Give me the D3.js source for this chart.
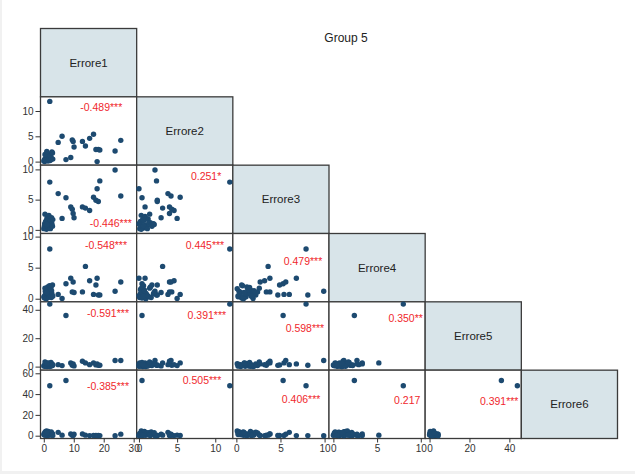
<!DOCTYPE html>
<html>
<head>
<meta charset="utf-8">
<script src="https://cdn.jsdelivr.net/npm/d3@7"></script>
<style>
  body { margin: 0; background: #f1f1f1; }
  svg { display: block; }
  text { font-family: "Liberation Sans", Arial, sans-serif; }
</style>
</head>
<body>
<script>
const title = 'Group 5'
const vars = ['Errore1', 'Errore2', 'Errore3', 'Errore4', 'Errore5', 'Errore6']

// one value per observation, same order in every array
const errore1 = [2.0,
  4.8, 6.1, 7.4, 9.0, 9.5, 9.8, 10.1, 12.9, 13.9, 15.3, 16.6, 17.4, 17.8, 18.2, 18.7, 23.8, 25.7,
  0.0, 0.2, 0.3, 0.5, 0.6, 0.8, 0.9, 1.0, 1.1, 1.2, 1.3, 1.4, 1.5, 1.6, 1.7, 1.8, 1.9, 2.0,
  2.1, 2.2, 2.4, 2.5, 2.6, 2.7, 2.9, 3.0, 0.4, 1.0]
const errore2 = [11.9,
  3.8, 5.0, 0.4, 0.8, 4.3, 4.0, 2.9, 4.0, 3.1, 4.6, 5.4, 2.4, 0.0, 2.4, 2.3, 2.1, 4.2,
  0.1, 0.4, 0.0, 0.6, 0.2, 0.9, 0.3, 1.2, 0.5, 0.8, 1.5, 0.1, 0.7, 1.0, 0.3, 1.3, 0.6, 0.9,
  0.2, 1.1, 0.4, 1.6, 0.7, 1.9, 1.7, 0.5, 1.4, 2.0]
const errore3 = [7.9,
  6.0, 1.9, 5.3, 3.8, 3.4, 2.7, 2.0, 3.8, 3.6, 3.2, 5.4, 4.9, 6.8, 4.7, 8.1, 9.9, 5.6,
  0.2, 0.6, 1.0, 0.3, 1.4, 0.8, 0.1, 1.8, 0.5, 2.2, 1.2, 0.9, 1.6, 0.4, 2.4, 1.1, 0.7, 1.9,
  1.3, 0.2, 1.5, 0.8, 2.0, 1.0, 0.6, 1.7, 2.6, 0.9]
const errore4 = [8.0,
  0.7, 0.05, 2.4, 3.3, 1.1, 2.7, 1.0, 1.1, 5.2, 2.9, 0.7, 2.2, 3.3, 0.6, 0.6, 1.2, 2.7,
  0.3, 0.1, 0.5, 1.2, 0.8, 0.0, 1.6, 0.4, 1.0, 0.6, 1.9, 0.2, 1.4, 0.7, 1.1, 0.3, 2.1, 0.9,
  1.5, 0.5, 1.8, 0.2, 1.3, 0.8, 2.2, 0.4, 1.7, 1.0]
const errore5 = [44,
  1.4, 0.7, 36, 2.6, 1.0, 1.9, 0.5, 3.8, 2.6, 1.4, 2.6, 1.2, 1.9, 0.9, 1.0, 4.3, 4.3,
  0.5, 0.8, 0.2, 1.5, 0.4, 1.1, 2.0, 0.6, 0.0, 1.8, 0.9, 2.6, 0.3, 1.4, 0.7, 2.2, 1.0, 0.1,
  1.7, 0.5, 2.9, 1.2, 0.6, 1.9, 0.8, 1.3, 3.2, 2.4]
const errore6 = [48,
  3.2, 0.5, 53, 1.6, 0.4, 0.2, 1.5, 1.6, 0.5, 0.1, 0.2, 0.3, 0.1, 0.2, 0.1, 0.0, 1.5,
  1.2, 2.5, 0.6, 3.8, 1.8, 0.4, 4.6, 2.9, 1.0, 3.4, 0.2, 2.2, 4.1, 1.5, 2.7, 0.8, 3.1, 1.9,
  0.5, 2.4, 1.3, 3.6, 0.9, 1.7, 2.0, 0.3, 0.7, 2.8]

const xDomains = [[-1.1, 31], [-0.3, 12.3], [-0.4, 10.5], [-0.5, 10.5], [-2.2, 46], [-2.7, 63]]
const yDomains = [[-1.1, 31], [-0.7, 12.8], [-0.6, 10.7], [-0.5, 10.5], [-2.5, 45.6], [-2.7, 63]]
const tickValues = [[0, 10, 20, 30], [0, 5, 10], [0, 5, 10], [0, 5, 10], [0, 20, 40], [0, 20, 40, 60]]

// correlation labels: [row, col, text]
const corrLabels = [
  [1, 0, '-0.489***'],
  [2, 0, '-0.446***'], [2, 1, '0.251*'],
  [3, 0, '-0.548***'], [3, 1, '0.445***'], [3, 2, '0.479***'],
  [4, 0, '-0.591***'], [4, 1, '0.391***'], [4, 2, '0.598***'], [4, 3, '0.350**'],
  [5, 0, '-0.385***'], [5, 1, '0.505***'], [5, 2, '0.406***'], [5, 3, '0.217'], [5, 4, '0.391***']
]
// where each label sits inside its cell (right edge, baseline) as fraction of the cell
const corrAnchor = [
  [0.85, 0.20],
  [0.95, 0.90], [0.88, 0.21],
  [0.90, 0.225], [0.91, 0.225], [0.93, 0.455],
  [0.92, 0.225], [0.93, 0.25], [0.95, 0.437], [0.976, 0.30],
  [0.92, 0.294], [0.88, 0.206], [0.91, 0.475], [0.95, 0.49], [0.97, 0.515]
]

const series = [errore1, errore2, errore3, errore4, errore5, errore6]

const width = 635
const height = 474
const gridLeft = 40.5
const gridTop = 28.5
const cellW = (617.5 - gridLeft) / 6
const cellH = (438.5 - gridTop) / 6

const svg = d3.select('body')
  .append('svg')
  .attr('width', width)
  .attr('height', height)

// white page with faint grey margin at left and bottom
svg.append('rect')
  .attr('x', 2).attr('y', 0)
  .attr('width', width - 2).attr('height', 471)
  .attr('fill', '#fff')

const xScales = vars.map((v, k) => d3.scaleLinear()
  .domain(xDomains[k])
  .range([gridLeft + k * cellW, gridLeft + (k + 1) * cellW]))

const yScales = vars.map((v, k) => d3.scaleLinear()
  .domain(yDomains[k])
  .range([gridTop + (k + 1) * cellH, gridTop + k * cellH]))

// title
svg.append('text')
  .attr('x', 346)
  .attr('y', 42)
  .attr('text-anchor', 'middle')
  .attr('font-size', 12)
  .attr('fill', '#222')
  .text(title)

// cells of the lower triangle
const cells = []
for (let r = 0; r < vars.length; r++) {
  for (let c = 0; c <= r; c++) cells.push({ r, c })
}

svg.append('g')
  .selectAll('rect')
  .data(cells)
  .enter()
  .append('rect')
  .attr('x', d => gridLeft + d.c * cellW)
  .attr('y', d => gridTop + d.r * cellH)
  .attr('width', cellW)
  .attr('height', cellH)
  .attr('fill', d => d.r === d.c ? '#d8e4e9' : '#fff')
  .attr('stroke', '#3b3b3b')
  .attr('stroke-width', 1.3)

// diagonal labels
svg.append('g')
  .selectAll('text')
  .data(vars)
  .enter()
  .append('text')
  .attr('x', (d, k) => gridLeft + (k + 0.5) * cellW)
  .attr('y', (d, k) => gridTop + (k + 0.5) * cellH + 4)
  .attr('text-anchor', 'middle')
  .attr('font-size', 11.5)
  .attr('fill', '#222')
  .text(d => d)

// scatter points
const scatter = svg.append('g')
cells.filter(d => d.r !== d.c).forEach(({ r, c }) => {
  const pts = series[c].map((x, i) => ({ x, y: series[r][i] }))
  scatter.append('g')
    .selectAll('circle')
    .data(pts)
    .enter()
    .append('circle')
    .attr('cx', d => xScales[c](d.x))
    .attr('cy', d => yScales[r](d.y))
    .attr('r', 2.7)
    .attr('fill', '#1d4a70')
})

// correlation coefficients
svg.append('g')
  .selectAll('text')
  .data(corrLabels)
  .enter()
  .append('text')
  .attr('x', (d, i) => gridLeft + (d[1] + corrAnchor[i][0]) * cellW)
  .attr('y', (d, i) => gridTop + (d[0] + corrAnchor[i][1]) * cellH)
  .attr('text-anchor', 'end')
  .attr('font-size', 10.5)
  .attr('fill', '#f0282d')
  .text(d => d[2])

// y axes along the first column
for (let r = 1; r < vars.length; r++) {
  const g = svg.append('g')
    .attr('transform', `translate(${gridLeft}, 0)`)
    .call(d3.axisLeft(yScales[r]).tickValues(tickValues[r]).tickSize(5).tickPadding(2))
  g.select('.domain').remove()
}

// x axes along the bottom row
for (let c = 0; c < vars.length - 1; c++) {
  const g = svg.append('g')
    .attr('transform', `translate(0, ${gridTop + 6 * cellH})`)
    .call(d3.axisBottom(xScales[c]).tickValues(tickValues[c]).tickSize(4).tickPadding(2))
  g.select('.domain').remove()
}

svg.selectAll('.tick text')
  .attr('font-family', '"Liberation Sans", Arial, sans-serif')
  .attr('font-size', 10)
  .attr('fill', '#333')
svg.selectAll('.tick line')
  .attr('stroke', '#333')
</script>
</body>
</html>
